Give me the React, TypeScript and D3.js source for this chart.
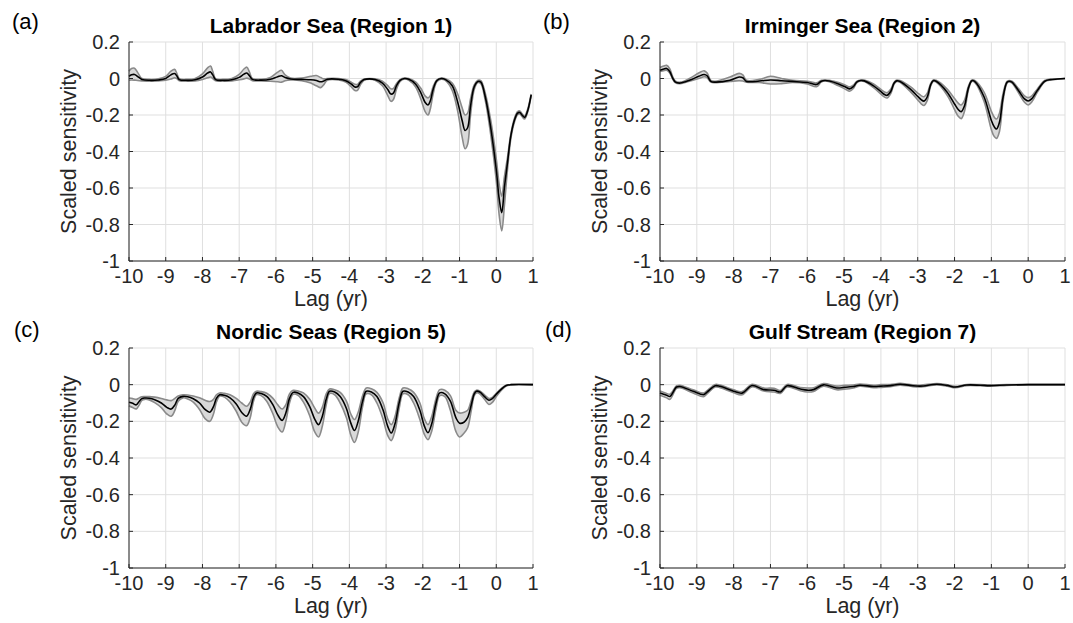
import React from "react";
import * as d3 from "d3";

// ---------- data ----------
const xTicks = [-10, -9, -8, -7, -6, -5, -4, -3, -2, -1, 0, 1];
const yTicks = [-1, -0.8, -0.6, -0.4, -0.2, 0, 0.2];
const panelLetters = ["(a)", "(b)", "(c)", "(d)"];
const panelTitles = [
  "Labrador Sea (Region 1)",
  "Irminger Sea (Region 2)",
  "Nordic Seas (Region 5)",
  "Gulf Stream (Region 7)",
];
const xLabel = "Lag (yr)";
const yLabel = "Scaled sensitivity";

// rows: [lag (yr), mean, upper, lower]
const labrador = [
  [-10, 0.012, 0.04, -0.01], [-9.93, 0.02, 0.055, -0.008], [-9.85, 0.022, 0.056, -0.009], [-9.77, 0.012, 0.035, -0.011],
  [-9.65, -0.005, 0.0, -0.013], [-9.45, -0.01, -0.005, -0.015], [-9.2, -0.008, -0.002, -0.013], [-9.0, 0.0, 0.012, -0.01],
  [-8.86, 0.02, 0.04, -0.003], [-8.76, 0.027, 0.05, 0.004], [-8.7, 0.015, 0.03, 0.0], [-8.63, -0.006, -0.001, -0.012],
  [-8.45, -0.01, -0.005, -0.015], [-8.2, -0.007, 0.0, -0.013], [-8.0, 0.008, 0.025, -0.005], [-7.86, 0.03, 0.058, 0.004],
  [-7.78, 0.036, 0.068, 0.008], [-7.72, 0.02, 0.04, 0.0], [-7.64, -0.006, -0.001, -0.012], [-7.45, -0.01, -0.005, -0.015],
  [-7.2, -0.007, 0.0, -0.013], [-7.0, 0.006, 0.022, -0.007], [-6.87, 0.024, 0.052, -0.002], [-6.79, 0.03, 0.062, 0.002],
  [-6.72, 0.015, 0.035, -0.003], [-6.64, -0.005, 0.0, -0.012], [-6.4, -0.009, -0.004, -0.013], [-6.15, -0.004, 0.006, -0.015],
  [-5.95, 0.01, 0.035, -0.018], [-5.85, 0.015, 0.045, -0.02], [-5.75, 0.005, 0.02, -0.012], [-5.6, -0.003, 0.002, -0.008],
  [-5.3, -0.005, 0.002, -0.012], [-5.05, -0.007, 0.012, -0.025], [-4.9, -0.011, 0.016, -0.04], [-4.78, -0.018, 0.005, -0.05],
  [-4.7, -0.014, -0.002, -0.035], [-4.6, -0.004, 0.0, -0.01], [-4.3, -0.004, 0.0, -0.008], [-4.1, -0.012, -0.006, -0.02],
  [-3.95, -0.03, -0.02, -0.045], [-3.85, -0.046, -0.032, -0.066], [-3.78, -0.045, -0.033, -0.065], [-3.7, -0.022, -0.015, -0.035],
  [-3.6, -0.006, -0.003, -0.01], [-3.45, -0.002, 0.0, -0.004], [-3.3, -0.006, -0.002, -0.01], [-3.1, -0.025, -0.015, -0.04],
  [-2.95, -0.062, -0.04, -0.095], [-2.87, -0.085, -0.056, -0.125], [-2.8, -0.08, -0.055, -0.115], [-2.72, -0.04, -0.028, -0.06],
  [-2.62, -0.01, -0.006, -0.016], [-2.5, 0.0, 0.002, -0.003], [-2.38, -0.004, 0.0, -0.01], [-2.2, -0.03, -0.018, -0.045],
  [-2.05, -0.08, -0.055, -0.115], [-1.94, -0.13, -0.095, -0.18], [-1.86, -0.145, -0.106, -0.2], [-1.8, -0.125, -0.095, -0.17],
  [-1.72, -0.06, -0.045, -0.085], [-1.62, -0.012, -0.008, -0.018], [-1.5, 0.0, 0.002, -0.004], [-1.38, -0.006, -0.002, -0.012],
  [-1.2, -0.04, -0.025, -0.065], [-1.05, -0.13, -0.085, -0.18], [-0.93, -0.23, -0.16, -0.32], [-0.85, -0.285, -0.2, -0.385],
  [-0.78, -0.27, -0.19, -0.36], [-0.7, -0.15, -0.11, -0.2], [-0.6, -0.045, -0.035, -0.06], [-0.5, -0.016, -0.01, -0.022],
  [-0.42, -0.02, -0.012, -0.028], [-0.3, -0.1, -0.08, -0.12], [-0.15, -0.27, -0.23, -0.31], [0.0, -0.5, -0.44, -0.56],
  [0.08, -0.66, -0.58, -0.75], [0.15, -0.735, -0.645, -0.835], [0.22, -0.6, -0.54, -0.7], [0.3, -0.47, -0.44, -0.51],
  [0.4, -0.31, -0.3, -0.325], [0.5, -0.225, -0.215, -0.235], [0.58, -0.19, -0.182, -0.198], [0.64, -0.186, -0.178, -0.194],
  [0.7, -0.2, -0.192, -0.208], [0.77, -0.213, -0.205, -0.222], [0.85, -0.18, -0.172, -0.188], [0.95, -0.09, -0.085, -0.095],
];

const irminger = [
  [-10, 0.045, 0.06, 0.038], [-9.9, 0.052, 0.068, 0.043], [-9.82, 0.055, 0.072, 0.045], [-9.74, 0.04, 0.055, 0.032],
  [-9.65, 0.0, 0.008, -0.006], [-9.58, -0.02, -0.014, -0.024], [-9.45, -0.025, -0.02, -0.028], [-9.2, -0.01, 0.0, -0.015],
  [-8.95, 0.012, 0.03, 0.0], [-8.8, 0.022, 0.042, 0.01], [-8.72, 0.015, 0.03, 0.005], [-8.62, -0.016, -0.01, -0.02],
  [-8.5, -0.02, -0.015, -0.023], [-8.1, -0.01, 0.008, -0.016], [-7.85, 0.008, 0.028, -0.012], [-7.75, 0.004, 0.02, -0.014],
  [-7.65, -0.016, -0.01, -0.02], [-7.3, -0.014, -0.005, -0.022], [-7.0, -0.008, 0.012, -0.03], [-6.7, -0.012, 0.0, -0.028],
  [-6.4, -0.016, -0.01, -0.022], [-6.0, -0.022, -0.015, -0.03], [-5.75, -0.033, -0.024, -0.045], [-5.62, -0.015, -0.01, -0.02],
  [-5.52, -0.011, -0.008, -0.014], [-5.4, -0.014, -0.01, -0.018], [-5.15, -0.03, -0.022, -0.04], [-4.95, -0.048, -0.038, -0.06],
  [-4.85, -0.057, -0.046, -0.07], [-4.75, -0.045, -0.036, -0.055], [-4.65, -0.018, -0.014, -0.022], [-4.55, -0.011, -0.008, -0.014],
  [-4.45, -0.013, -0.009, -0.017], [-4.2, -0.04, -0.03, -0.05], [-4.0, -0.072, -0.06, -0.086], [-3.9, -0.088, -0.074, -0.102],
  [-3.83, -0.092, -0.078, -0.107], [-3.73, -0.07, -0.058, -0.082], [-3.64, -0.025, -0.02, -0.03], [-3.57, -0.013, -0.009, -0.016],
  [-3.48, -0.016, -0.011, -0.021], [-3.2, -0.058, -0.045, -0.072], [-3.0, -0.098, -0.08, -0.117], [-2.9, -0.117, -0.095, -0.14],
  [-2.83, -0.124, -0.1, -0.148], [-2.74, -0.1, -0.08, -0.12], [-2.65, -0.035, -0.028, -0.042], [-2.58, -0.012, -0.008, -0.016],
  [-2.5, -0.015, -0.01, -0.02], [-2.2, -0.075, -0.058, -0.092], [-2.0, -0.14, -0.11, -0.17], [-1.9, -0.17, -0.135, -0.207],
  [-1.82, -0.182, -0.145, -0.22], [-1.73, -0.15, -0.12, -0.18], [-1.62, -0.05, -0.04, -0.06], [-1.53, -0.012, -0.008, -0.016],
  [-1.44, -0.018, -0.012, -0.024], [-1.2, -0.1, -0.075, -0.125], [-1.0, -0.23, -0.18, -0.28], [-0.92, -0.265, -0.212, -0.318],
  [-0.86, -0.277, -0.222, -0.328], [-0.78, -0.24, -0.19, -0.29], [-0.68, -0.1, -0.08, -0.12], [-0.58, -0.022, -0.017, -0.027],
  [-0.52, -0.015, -0.011, -0.019], [-0.44, -0.02, -0.015, -0.025], [-0.25, -0.07, -0.058, -0.082], [-0.1, -0.112, -0.095, -0.13],
  [0.0, -0.123, -0.105, -0.145], [0.1, -0.11, -0.095, -0.128], [0.25, -0.065, -0.057, -0.075], [0.45, -0.015, -0.011, -0.018],
  [0.6, -0.006, -0.004, -0.008], [0.8, -0.003, -0.002, -0.004], [1.0, 0.0, 0.0, 0.0],
];

const nordic = [
  [-10, -0.096, -0.073, -0.115], [-9.9, -0.102, -0.076, -0.125], [-9.8, -0.11, -0.08, -0.132], [-9.72, -0.09, -0.072, -0.11],
  [-9.65, -0.076, -0.066, -0.086], [-9.57, -0.073, -0.065, -0.08], [-9.45, -0.074, -0.065, -0.083], [-9.3, -0.082, -0.068, -0.098],
  [-9.12, -0.1, -0.075, -0.125], [-8.97, -0.124, -0.083, -0.16], [-8.85, -0.133, -0.087, -0.172], [-8.75, -0.11, -0.075, -0.14],
  [-8.66, -0.075, -0.062, -0.09], [-8.53, -0.064, -0.055, -0.072], [-8.4, -0.066, -0.056, -0.078], [-8.25, -0.077, -0.062, -0.095],
  [-8.08, -0.1, -0.072, -0.135], [-7.93, -0.135, -0.085, -0.185], [-7.8, -0.15, -0.092, -0.2], [-7.7, -0.12, -0.08, -0.16],
  [-7.62, -0.075, -0.055, -0.095], [-7.53, -0.055, -0.045, -0.062], [-7.4, -0.058, -0.047, -0.068], [-7.25, -0.072, -0.055, -0.095],
  [-7.08, -0.105, -0.075, -0.145], [-6.93, -0.152, -0.1, -0.205], [-6.8, -0.172, -0.118, -0.224], [-6.7, -0.135, -0.095, -0.18],
  [-6.61, -0.07, -0.05, -0.09], [-6.53, -0.045, -0.036, -0.054], [-6.4, -0.048, -0.038, -0.06], [-6.25, -0.064, -0.047, -0.09],
  [-6.08, -0.11, -0.075, -0.16], [-5.95, -0.165, -0.11, -0.23], [-5.83, -0.195, -0.133, -0.258], [-5.73, -0.155, -0.11, -0.2],
  [-5.63, -0.075, -0.05, -0.1], [-5.53, -0.042, -0.031, -0.052], [-5.4, -0.045, -0.034, -0.058], [-5.25, -0.065, -0.045, -0.095],
  [-5.08, -0.12, -0.08, -0.17], [-4.95, -0.185, -0.125, -0.255], [-4.84, -0.218, -0.155, -0.285], [-4.74, -0.175, -0.125, -0.23],
  [-4.63, -0.08, -0.05, -0.11], [-4.54, -0.036, -0.024, -0.048], [-4.4, -0.04, -0.028, -0.055], [-4.25, -0.065, -0.042, -0.1],
  [-4.08, -0.13, -0.09, -0.18], [-3.96, -0.21, -0.16, -0.275], [-3.86, -0.25, -0.19, -0.315], [-3.76, -0.2, -0.15, -0.26],
  [-3.64, -0.09, -0.06, -0.12], [-3.54, -0.036, -0.018, -0.05], [-3.4, -0.04, -0.022, -0.055], [-3.25, -0.065, -0.042, -0.1],
  [-3.08, -0.14, -0.1, -0.19], [-2.96, -0.225, -0.185, -0.275], [-2.86, -0.264, -0.218, -0.305], [-2.76, -0.215, -0.175, -0.255],
  [-2.64, -0.095, -0.07, -0.125], [-2.54, -0.036, -0.018, -0.05], [-2.4, -0.04, -0.022, -0.055], [-2.25, -0.065, -0.042, -0.1],
  [-2.08, -0.14, -0.1, -0.19], [-1.96, -0.225, -0.185, -0.27], [-1.86, -0.262, -0.218, -0.3], [-1.76, -0.215, -0.175, -0.255],
  [-1.64, -0.1, -0.075, -0.13], [-1.54, -0.045, -0.027, -0.06], [-1.4, -0.05, -0.03, -0.065], [-1.25, -0.09, -0.06, -0.14],
  [-1.1, -0.18, -0.14, -0.255], [-1.0, -0.21, -0.155, -0.285], [-0.88, -0.205, -0.15, -0.265], [-0.78, -0.18, -0.14, -0.235],
  [-0.68, -0.11, -0.085, -0.14], [-0.6, -0.05, -0.04, -0.06], [-0.54, -0.036, -0.03, -0.045], [-0.45, -0.04, -0.035, -0.05],
  [-0.32, -0.065, -0.055, -0.08], [-0.2, -0.085, -0.075, -0.108], [-0.1, -0.075, -0.068, -0.095], [0.0, -0.052, -0.047, -0.065],
  [0.14, -0.024, -0.02, -0.03], [0.27, -0.005, -0.003, -0.008], [0.4, 0.0, 0.0, 0.0], [1.0, 0.0, 0.0, 0.0],
];

const gulf = [
  [-10, -0.046, -0.035, -0.058], [-9.82, -0.058, -0.048, -0.072], [-9.73, -0.064, -0.052, -0.08], [-9.55, -0.013, -0.006, -0.02],
  [-9.46, -0.01, -0.003, -0.017], [-9.1, -0.036, -0.028, -0.045], [-8.82, -0.055, -0.046, -0.066], [-8.73, -0.042, -0.034, -0.052],
  [-8.5, -0.006, 0.001, -0.013], [-8.37, -0.009, -0.002, -0.016], [-8.0, -0.036, -0.028, -0.044], [-7.77, -0.046, -0.038, -0.055],
  [-7.5, -0.005, 0.002, -0.012], [-7.18, -0.027, -0.018, -0.035], [-6.9, -0.03, -0.02, -0.04], [-6.73, -0.04, -0.032, -0.048],
  [-6.55, -0.006, 0.001, -0.013], [-6.19, -0.024, -0.015, -0.033], [-6.0, -0.03, -0.018, -0.04], [-5.83, -0.027, -0.017, -0.037],
  [-5.56, -0.001, 0.006, -0.008], [-5.2, -0.018, -0.008, -0.028], [-5.0, -0.015, -0.004, -0.025], [-4.75, -0.01, -0.002, -0.018],
  [-4.57, -0.003, 0.003, -0.009], [-4.2, -0.01, -0.003, -0.017], [-4.0, -0.008, 0.0, -0.015], [-3.75, -0.005, 0.001, -0.011],
  [-3.48, 0.002, 0.007, -0.003], [-3.2, -0.004, 0.001, -0.009], [-2.94, -0.008, -0.003, -0.013], [-2.48, 0.002, 0.006, -0.002],
  [-2.2, -0.004, 0.0, -0.008], [-1.98, -0.013, -0.009, -0.017], [-1.67, -0.002, 0.001, -0.005], [-1.3, -0.003, 0.0, -0.006],
  [-1.04, -0.005, -0.002, -0.008], [-0.58, -0.002, 0.0, -0.004], [0.0, 0.0, 0.0, 0.0], [1.0, 0.0, 0.0, 0.0],
];

const seriesData = [labrador, irminger, nordic, gulf];

// ---------- layout ----------
const W = 1073;
const H = 623;
const boxes = [
  { left: 129, right: 533, top: 42, bottom: 261, lx: 12, ly: 29 },
  { left: 660, right: 1065, top: 42, bottom: 261, lx: 543, ly: 29 },
  { left: 129, right: 533, top: 348, bottom: 568, lx: 14, ly: 337 },
  { left: 660, right: 1065, top: 348, bottom: 568, lx: 545, ly: 337 },
];
const FONT = "'Liberation Sans', Arial, Helvetica, sans-serif";
const TXT = "#262626";

function Panel({ idx }: { idx: number }) {
  const b = boxes[idx];
  const rows = seriesData[idx];
  const x = d3.scaleLinear().domain([-10, 1]).range([b.left, b.right]);
  const y = d3.scaleLinear().domain([-1, 0.2]).range([b.bottom, b.top]);
  const curve = d3.curveCatmullRom.alpha(0.5);
  const area = d3
    .area<number[]>()
    .x((d) => x(d[0]))
    .y0((d) => y(d[3]))
    .y1((d) => y(d[2]))
    .curve(curve);
  const mk = (k: number) => d3.line<number[]>().x((d) => x(d[0])).y((d) => y(d[k])).curve(curve)(rows) || "";
  const fmt = (v: number) => (Math.abs(v) < 1e-9 ? "0" : String(+v.toFixed(1)));
  const midY = (b.top + b.bottom) / 2;
  const midX = (b.left + b.right) / 2;
  return (
    <g>
      {xTicks.map((t) => (
        <line key={"gx" + t} x1={x(t)} x2={x(t)} y1={b.top} y2={b.bottom} stroke="#dfdfdf" strokeWidth={1} />
      ))}
      {yTicks.map((t) => (
        <line key={"gy" + t} x1={b.left} x2={b.right} y1={y(t)} y2={y(t)} stroke="#dfdfdf" strokeWidth={1} />
      ))}
      <path d={area(rows) || ""} fill="#d9d9d9" stroke="none" />
      <path d={mk(2)} fill="none" stroke="#8a8a8a" strokeWidth={1.6} />
      <path d={mk(3)} fill="none" stroke="#8a8a8a" strokeWidth={1.6} />
      <path d={mk(1)} fill="none" stroke="#000" strokeWidth={1.6} />
      <line x1={b.left} x2={b.left} y1={b.top} y2={b.bottom} stroke={TXT} strokeWidth={1} />
      <line x1={b.left} x2={b.right} y1={b.bottom} y2={b.bottom} stroke={TXT} strokeWidth={1} />
      {xTicks.map((t) => (
        <line key={"tx" + t} x1={x(t)} x2={x(t)} y1={b.bottom} y2={b.bottom - 4} stroke={TXT} strokeWidth={1} />
      ))}
      {yTicks.map((t) => (
        <line key={"ty" + t} x1={b.left} x2={b.left + 4} y1={y(t)} y2={y(t)} stroke={TXT} strokeWidth={1} />
      ))}
      {xTicks.map((t) => (
        <text key={"lx" + t} x={x(t)} y={b.bottom + 22} textAnchor="middle" fontSize={20} fontFamily={FONT} fill={TXT}>
          {fmt(t)}
        </text>
      ))}
      {yTicks.map((t) => (
        <text key={"ly" + t} x={b.left - 9} y={y(t) + 7} textAnchor="end" fontSize={20} fontFamily={FONT} fill={TXT}>
          {fmt(t)}
        </text>
      ))}
      <text x={midX} y={b.bottom + 45} textAnchor="middle" fontSize={21.5} fontFamily={FONT} fill={TXT}>
        {xLabel}
      </text>
      <text
        transform={`translate(${b.left - 53},${midY}) rotate(-90)`}
        textAnchor="middle"
        fontSize={21.5}
        fontFamily={FONT}
        fill={TXT}
      >
        {yLabel}
      </text>
      <text x={midX} y={b.top - 9} textAnchor="middle" fontSize={21} fontWeight="bold" fontFamily={FONT} fill="#000">
        {panelTitles[idx]}
      </text>
      <text x={b.lx} y={b.ly} fontSize={22} fontFamily={FONT} fill="#000">
        {panelLetters[idx]}
      </text>
    </g>
  );
}

export default function App() {
  return (
    <svg
      width={W}
      height={H}
      viewBox={`0 0 ${W} ${H}`}
      style={{ position: "absolute", left: 0, top: 0, background: "#fff", display: "block" }}
    >
      <rect x={0} y={0} width={W} height={H} fill="#fff" />
      {[0, 1, 2, 3].map((i) => (
        <Panel key={i} idx={i} />
      ))}
    </svg>
  );
}
